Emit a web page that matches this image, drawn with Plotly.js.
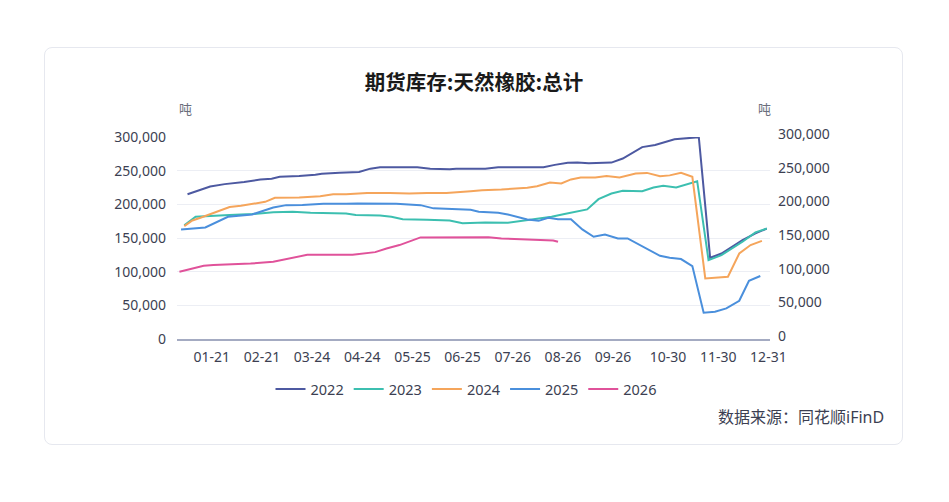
<!DOCTYPE html>
<html><head><meta charset="utf-8">
<script src="https://cdn.plot.ly/plotly-3.0.1.min.js"></script>
<style>
html,body{margin:0;padding:0;background:#fff;}
#card{position:absolute;left:44px;top:47px;width:859px;height:398px;border:1px solid #e6e8ef;border-radius:8px;box-sizing:border-box;}
#chart{position:absolute;left:0;top:0;width:949px;height:502px;}
</style></head><body>
<div id="card"></div><div id="chart"></div>
<script>
const seriesNames = ['2022','2023','2024','2025','2026'];
const seriesColors = ['#4d59a1','#3cbfb0','#f5a55b','#4a8fdc','#e0529a'];

const dates2022 = ['01-06','01-14','01-20','01-29','02-10','02-20','02-27','03-04','03-16','03-26','03-30','04-10','04-22','04-29','05-05','05-17','05-28','06-05','06-17','06-21','06-30','07-09','07-17','07-27','08-14','08-21','08-29','09-04','09-11','09-25','10-02','10-14','10-22','11-03','11-11','11-18','11-25','12-02','12-15','12-23','12-30'];
const values2022 = [215000,221000,226500,230000,233000,237000,238000,241000,242000,244000,245500,247000,248000,253000,255000,255000,255000,253000,252000,253000,253000,253000,255000,255000,255000,258600,261600,262000,261000,262000,268000,285000,288000,296700,297800,299700,120600,127000,147000,156800,164000];

const dates2023 = ['01-04','01-11','02-01','02-15','02-28','03-12','03-23','04-14','04-20','05-05','05-12','05-19','06-03','06-17','06-25','07-09','07-23','08-01','08-09','08-19','08-27','09-04','09-10','09-17','09-25','10-02','10-14','10-21','10-27','11-04','11-11','11-17','11-24','12-02','12-15','12-23','12-30'];
const values2023 = [169000,181500,184000,185500,188400,188900,187400,186500,184000,183500,181500,178000,177000,176000,172000,173000,172600,175500,177600,181500,185500,190000,192400,207700,216000,220000,219600,225000,227500,225000,229500,234400,117200,124600,144400,158300,164000];

const dates2024 = ['01-04','01-09','01-14','02-01','02-08','02-23','03-01','03-16','03-29','04-06','04-14','04-27','05-11','05-23','06-03','06-15','06-30','07-07','07-19','08-04','08-10','08-18','08-25','08-31','09-06','09-15','09-22','09-30','10-10','10-17','10-25','10-31','11-07','11-14','11-22','12-06','12-13','12-20','12-27'];
const values2024 = [167700,176000,180000,196000,197800,203700,209600,210000,212000,215000,215000,217000,217000,216000,217000,217000,219600,221000,222000,224500,227000,232500,231000,237000,240000,240000,242000,240000,245800,246700,241800,243000,246700,240800,90000,92400,127000,139500,145800];

const dates2025 = ['01-02','01-17','01-31','02-15','02-28','03-08','03-18','03-31','04-14','04-21','05-15','05-30','06-07','06-21','06-30','07-05','07-17','07-23','07-29','08-04','08-11','08-17','08-23','08-31','09-07','09-14','09-21','09-29','10-05','10-15','10-25','10-31','11-07','11-14','11-21','11-28','12-05','12-13','12-19','12-26'];
const values2025 = [162700,165700,181500,185000,195400,198800,199000,200700,200700,201300,200700,198800,194000,192900,191800,188900,187400,185000,181000,177600,175500,180000,178000,178000,162700,151800,155300,149400,149400,137000,123600,120600,118700,108300,39000,40500,45500,56800,86500,93500];

const dates2026 = ['01-01','01-16','01-22','02-01','02-14','02-28','03-08','03-14','03-21','04-18','04-24','05-02','05-09','05-17','05-30','06-09','06-15','06-30','07-11','07-19','08-03','08-15','08-20','08-23'];
const values2026 = [99900,108800,110000,111000,112000,114700,118300,121000,125000,125000,127000,129000,134500,139500,150900,150900,151800,151300,151000,149400,148000,147000,146400,144400];

const tickDates = ['01-21','02-21','03-24','04-24','05-25','06-25','07-26','08-26','09-26','10-30','11-30','12-31'];
const yTicks = [0,50000,100000,150000,200000,250000,300000];

const allDates = [dates2022,dates2023,dates2024,dates2025,dates2026];
const allValues = [values2022,values2023,values2024,values2025,values2026];
const toDate = md => '2001-' + md;

const FONT = '"Noto Sans", "Noto Sans CJK SC", sans-serif';
const CJK = '"Noto Sans CJK SC", sans-serif';
const TXT = '#3c3f52';

const traces = seriesNames.map((name,i)=>({
  type:'scatter', mode:'lines', name:name,
  x: allDates[i].map(toDate), y: allValues[i],
  line:{color:seriesColors[i], width:2},
  hoverinfo:'skip'
}));
// invisible trace to activate the right axis
traces.push({type:'scatter', mode:'lines', x:[toDate('01-21')], y:[0], yaxis:'y2', showlegend:false, hoverinfo:'skip', line:{color:'rgba(0,0,0,0)'}});

const layout = {
  width:949, height:502,
  paper_bgcolor:'rgba(0,0,0,0)', plot_bgcolor:'rgba(0,0,0,0)',
  margin:{l:177, r:179, t:137, b:163, pad:0},
  font:{family:FONT, size:14, color:TXT},
  showlegend:true,
  title:{text:'<b>期货库存:天然橡胶:总计</b>', x:474/949, xref:'container', xanchor:'center', y:1-83/502, yref:'container', yanchor:'middle',
         font:{family:CJK, size:20.5, color:'#1a1a1a'}},
  xaxis:{type:'date', range:['2000-12-30 12:00','2002-01-01'], tickmode:'array',
         tickvals:tickDates.map(toDate), ticktext:tickDates, showgrid:false, zeroline:false,
         showline:true, linecolor:'#a4abc2', linewidth:2, ticks:'', ticklabelstandoff:4,
         tickfont:{family:FONT, size:14, color:TXT}, fixedrange:true},
  yaxis:{range:[0,300000], tickmode:'array', tickvals:yTicks, tickformat:',d', showgrid:true,
         gridcolor:'#eceef4', gridwidth:1, zeroline:false, showline:false, ticks:'', ticklabelstandoff:10,
         tickfont:{family:FONT, size:14, color:TXT}, fixedrange:true},
  yaxis2:{range:[0,300000], overlaying:'y', side:'right', tickmode:'array', tickvals:yTicks, tickformat:',d',
         showgrid:false, zeroline:false, showline:false, ticks:'', ticklabelstandoff:7, ticklabelshift:-3,
         tickfont:{family:FONT, size:14, color:TXT}, fixedrange:true},
  legend:{orientation:'h', x:(466-177)/593, xanchor:'center', y:(339-389)/202, yanchor:'middle',
          font:{family:FONT, size:14.5, color:TXT}, bgcolor:'rgba(0,0,0,0)', itemwidth:30, tracegroupgap:0},
  annotations:[
    {text:'吨', xref:'paper', yref:'paper', x:(185-177)/593, y:(339-108)/202, xanchor:'center', yanchor:'middle', showarrow:false,
     font:{family:CJK, size:13, color:'#6b6e7c'}},
    {text:'吨', xref:'paper', yref:'paper', x:(764-177)/593, y:(339-108)/202, xanchor:'center', yanchor:'middle', showarrow:false,
     font:{family:CJK, size:13, color:'#6b6e7c'}},
    {text:'数据来源：同花顺iFinD', xref:'paper', yref:'paper', x:(886-177)/593, y:(339-417)/202, xanchor:'right', yanchor:'middle', showarrow:false,
     font:{family:FONT, size:16, color:TXT}}
  ]
};
Plotly.newPlot('chart', traces, layout, {displayModeBar:false, staticPlot:true});
</script>
</body></html>
